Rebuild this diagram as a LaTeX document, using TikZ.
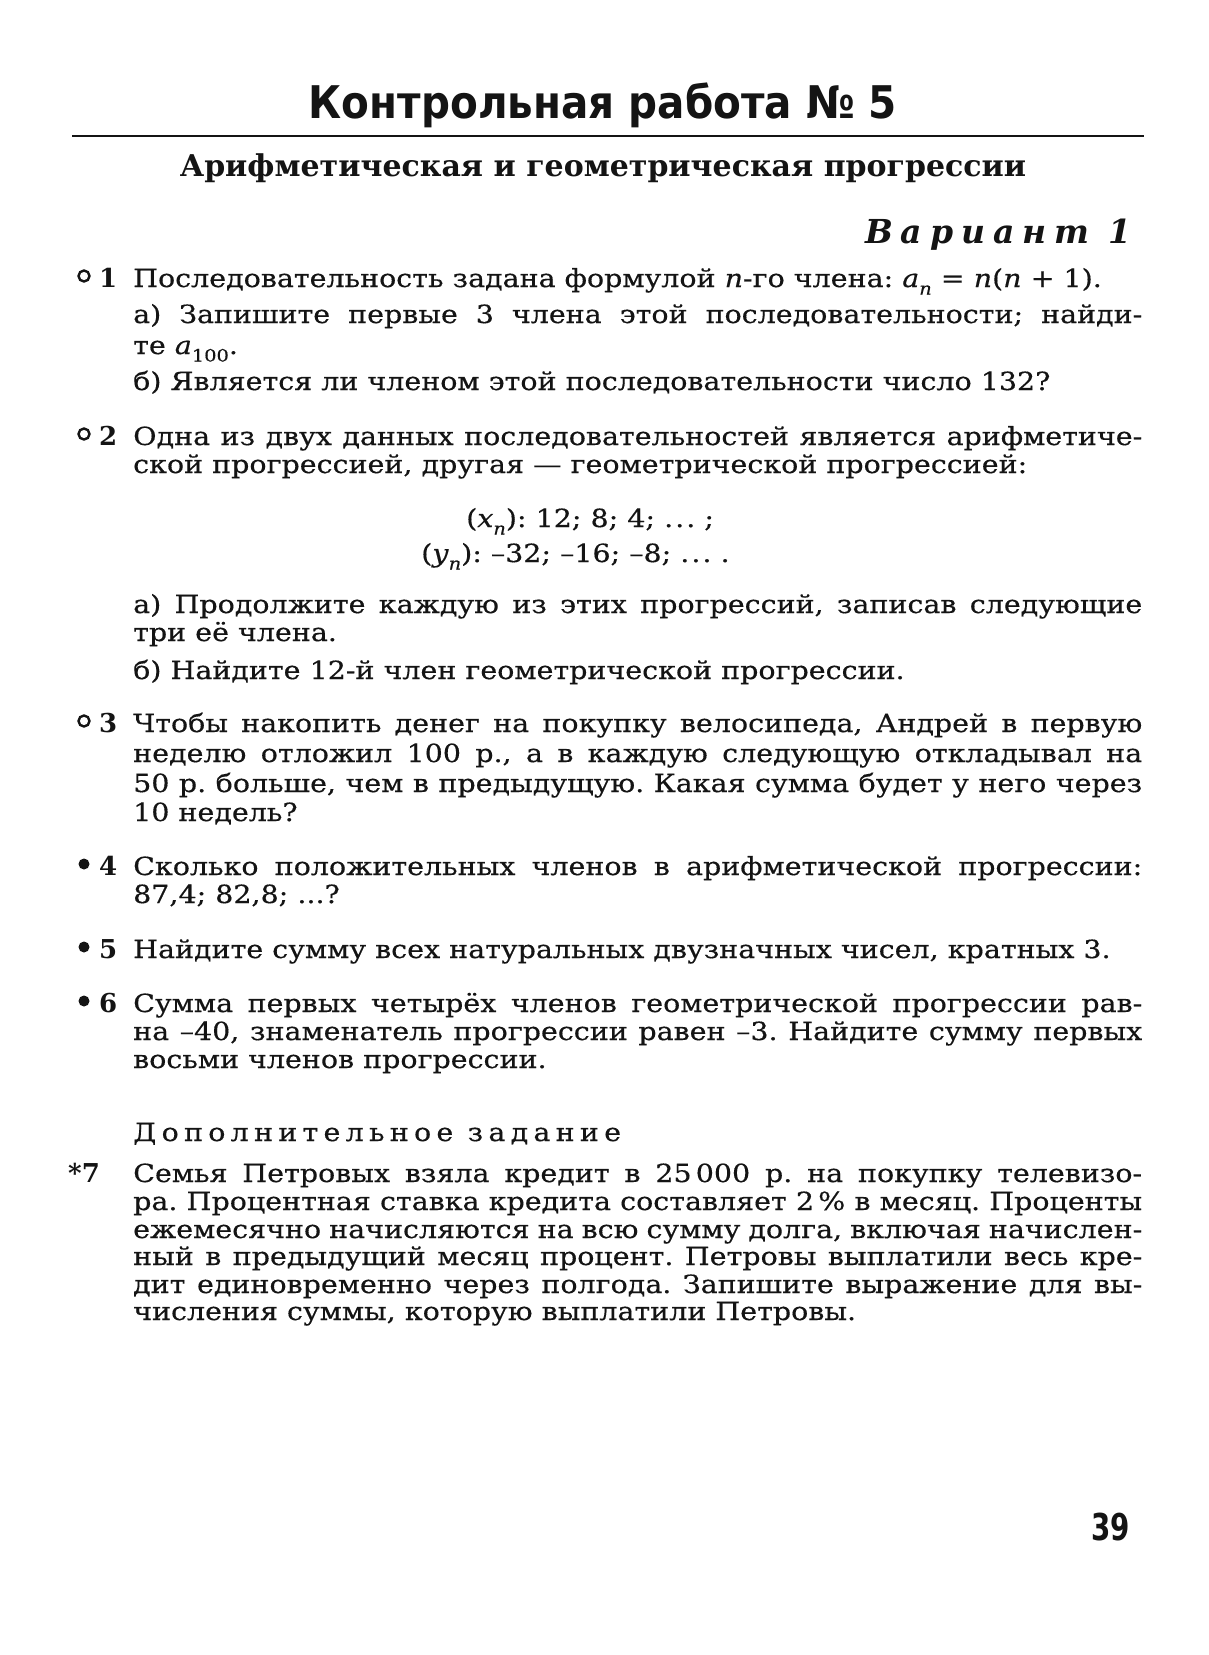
\documentclass[tikz,border=0pt]{standalone}
\usepackage{fontspec}
\setmainfont{DejaVu Serif}[FakeStretch=1.14,FakeBold=0.4]
\newfontfamily\headfont{DejaVu Serif}
\newfontfamily\titlefont{DejaVu Sans}[FakeStretch=0.9]
\newfontfamily\pagefont{DejaVu Sans}[FakeStretch=0.75]
\newfontfamily\spacedfont{DejaVu Serif}[FakeStretch=1.14,LetterSpace=21,FakeBold=0.4]
\newfontfamily\varfont{DejaVu Serif}[LetterSpace=24]
\newcommand\body{\fontsize{25}{30}\selectfont\frenchspacing}
\newcommand\jl[1]{\hbox to 1009pt{\spaceskip=.35em plus 2em minus .15em\relax #1}}
\newcommand\subs[1]{\raisebox{-0.3em}{\fontsize{17}{17}\selectfont #1}}
\newcommand\vi[1]{\textit{#1}}
\definecolor{ink}{gray}{0.08}
\tikzset{
  txt/.style={anchor=base west, inner sep=0pt, font=\body, text=ink},
  num/.style={anchor=base west, inner sep=0pt, font=\headfont\fontsize{26}{30}\selectfont\bfseries, text=ink},
  ring/.style={circle, draw=ink, line width=2.4pt, minimum size=11pt, inner sep=0pt},
  dotm/.style={circle, fill=ink, minimum size=11pt, inner sep=0pt},
}
\begin{document}
\begin{tikzpicture}[x=1pt,y=-1pt]
\useasboundingbox (0,0) rectangle (1208,1655);
\fill[white] (0,0) rectangle (1208,1655);
% title
\node[anchor=base, inner sep=0pt, text=ink, font=\titlefont\fontsize{45}{50}\selectfont\bfseries] (title) at (603,118) {Контрольная работа № 5};
\coordinate (rl) at (72,136);
\coordinate (rr) at (1144,136);
\draw[ink, line width=2pt] (rl) -- (rr);
\node[anchor=base, inner sep=0pt, text=ink, font=\headfont\fontsize{30}{34}\selectfont\bfseries\frenchspacing] (sub) at (603,176) {Арифметическая и геометрическая прогрессии};
\node[anchor=base east, inner sep=0pt, text=ink, font=\varfont\fontsize{33}{36}\selectfont\bfseries\itshape] (var) at (1132,243) {Вариант 1};
% item 1
\node[ring] (m1) at (84,276) {};
\node[num] (n1) at (99,287) {1};
\node[txt] (l11) at (133,287) {Последовательность задана формулой \vi{n}-го члена: \vi{a}\subs{\itshape n} = \vi{n}(\vi{n} + 1).};
\node[txt] (l12) at (133,323) {\jl{а) Запишите первые 3 члена этой последовательности; найди-}};
\node[txt] (l13) at (133,354) {те \vi{a}\subs{100}.};
\node[txt] (l14) at (133,390) {б) Является ли членом этой последовательности число 132?};
% item 2
\node[ring] (m2) at (84,434) {};
\node[num] (n2) at (99,445) {2};
\node[txt] (l21) at (133,445) {\jl{Одна из двух данных последовательностей является арифметиче-}};
\node[txt] (l22) at (133,473) {ской прогрессией, другая — геометрической прогрессией:};
\node[txt] (l23) at (466,527) {(\vi{x}\subs{\itshape n}): 12; 8; 4; .\kern2pt.\kern2pt.\ ;};
\node[txt] (l24) at (421,562) {(\vi{y}\subs{\itshape n}): –32; –16; –8; .\kern2pt.\kern2pt.\ .};
\node[txt] (l25) at (133,613) {\jl{а) Продолжите каждую из этих прогрессий, записав следующие}};
\node[txt] (l26) at (133,641) {три её члена.};
\node[txt] (l27) at (133,679) {б) Найдите 12-й член геометрической прогрессии.};
% item 3
\node[ring] (m3) at (84,721) {};
\node[num] (n3) at (99,732) {3};
\node[txt] (l31) at (133,732) {\jl{Чтобы накопить денег на покупку велосипеда, Андрей в первую}};
\node[txt] (l32) at (133,762) {\jl{неделю отложил 100 р., а в каждую следующую откладывал на}};
\node[txt] (l33) at (133,792) {\jl{50 р. больше, чем в предыдущую. Какая сумма будет у него через}};
\node[txt] (l34) at (133,821) {10 недель?};
% item 4
\node[dotm] (m4) at (84,864) {};
\node[num] (n4) at (99,875) {4};
\node[txt] (l41) at (133,875) {\jl{Сколько положительных членов в арифметической прогрессии:}};
\node[txt] (l42) at (133,903) {87,4; 82,8; ...?};
% item 5
\node[dotm] (m5) at (84,947) {};
\node[num] (n5) at (99,958) {5};
\node[txt] (l51) at (133,958) {Найдите сумму всех натуральных двузначных чисел, кратных 3.};
% item 6
\node[dotm] (m6) at (84,1001) {};
\node[num] (n6) at (99,1012) {6};
\node[txt] (l61) at (133,1012) {\jl{Сумма первых четырёх членов геометрической прогрессии рав-}};
\node[txt] (l62) at (133,1040) {\jl{на –40, знаменатель прогрессии равен –3. Найдите сумму первых}};
\node[txt] (l63) at (133,1068) {восьми членов прогрессии.};
% extra
\node[txt, font=\spacedfont\body] (dop) at (133,1141) {Дополнительное задание};
\node[num] (n7) at (68,1182) {*7};
\node[txt] (l71) at (133,1182) {\jl{Семья Петровых взяла кредит в 25\,000 р. на покупку телевизо-}};
\node[txt] (l72) at (133,1210) {\jl{ра. Процентная ставка кредита составляет 2\,\% в месяц. Проценты}};
\node[txt] (l73) at (133,1238) {\jl{ежемесячно начисляются на всю сумму долга, включая начислен-}};
\node[txt] (l74) at (133,1265) {\jl{ный в предыдущий месяц процент. Петровы выплатили весь кре-}};
\node[txt] (l75) at (133,1293) {\jl{дит единовременно через полгода. Запишите выражение для вы-}};
\node[txt] (l76) at (133,1320) {числения суммы, которую выплатили Петровы.};
% page number
\node[anchor=base east, inner sep=0pt, text=ink, font=\pagefont\fontsize{37}{40}\selectfont\bfseries] (pg) at (1130,1540) {39};
\end{tikzpicture}
\end{document}
